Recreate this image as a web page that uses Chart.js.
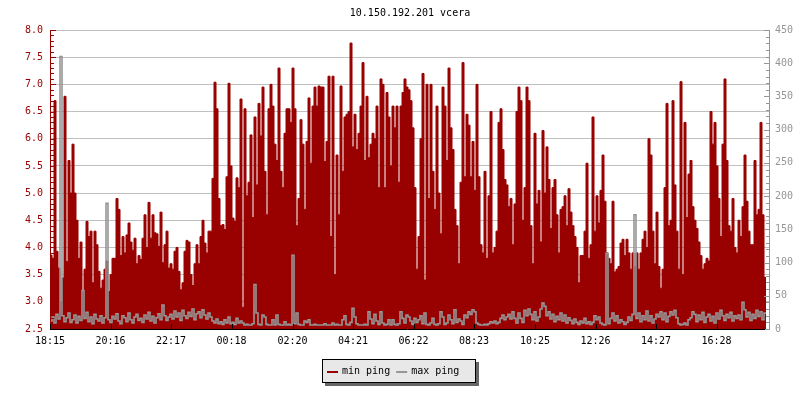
<!DOCTYPE html>
<html>
<head>
<meta charset="utf-8">
<title>10.150.192.201 vcera</title>
<script src="https://cdn.jsdelivr.net/npm/chart.js@4/dist/chart.umd.min.js"></script>
<style>
    html, body { margin: 0; padding: 0; background: #fff; }
</style>
</head>
<body>
<canvas id="ping" width="800" height="400"></canvas>
<script>
'use strict';

var chartTitle = "10.150.192.201 vcera";
var seriesNames = ["min ping", "max ping"];
var timeLabels = ["18:15", "20:16", "22:17", "00:18", "02:20", "04:21", "06:22", "08:23", "10:25", "12:26", "14:27", "16:28"];
var stepMinutes = 4; // one sample every 4 minutes
var spanMinutes = 1440;

// min ping, ms (left axis)
var minPing = [
    3.86, 3.80, 6.70, 3.93, 3.62, 3.00, 3.44, 6.78, 3.74, 5.60,
    5.00, 5.90, 5.00, 4.50, 3.80, 4.10, 3.20, 3.60, 4.48, 4.20,
    4.30, 3.35, 4.30, 4.05, 3.56, 3.25, 3.40, 3.60, 3.75, 3.19,
    3.50, 3.80, 3.80, 4.90, 4.70, 3.85, 4.20, 3.90, 4.23, 4.45,
    4.10, 3.95, 4.17, 3.70, 3.85, 3.78, 4.17, 4.60, 4.00, 4.83,
    4.17, 4.60, 4.27, 4.25, 4.02, 4.65, 3.72, 4.05,
    4.30, 3.62, 3.70, 3.60, 3.93, 4.00, 3.56, 3.22, 3.35, 3.93,
    4.13, 4.10, 3.50, 3.30, 3.70, 4.05, 3.70, 4.20, 4.50, 4.08,
    3.90, 4.30, 4.30, 5.27, 7.04, 6.55, 4.90, 4.40, 4.42, 4.33,
    5.30, 7.02, 5.50, 4.54, 4.48, 5.28, 5.10, 6.73, 2.90, 6.55,
    4.95, 5.20, 6.07, 4.55, 6.40, 5.15, 6.65, 6.05, 6.95, 5.40,
    4.60, 6.55, 7.00, 6.60, 5.90, 5.60, 7.30, 5.40, 5.10, 6.10,
    6.55,
    6.55, 6.30, 7.30, 6.55, 4.40, 4.90, 6.35, 5.90, 4.70, 5.95,
    6.75, 5.55, 6.60, 6.95, 6.60, 6.97, 6.95, 6.95, 5.58, 5.95,
    7.15, 4.20, 7.15, 3.50, 5.70, 4.60, 6.97, 5.40, 6.40, 6.45,
    6.50, 7.76, 5.85, 6.45, 5.80, 6.10, 6.60, 7.40, 5.60, 6.78,
    5.65, 5.90, 6.10, 6.00, 6.60, 5.10, 7.10, 7.00, 5.10, 6.85,
    6.40, 5.50, 6.60, 6.20, 6.60, 5.20, 6.60, 6.85, 7.10, 6.95,
    6.90, 6.70, 6.20, 5.10, 3.60, 4.20, 6.00, 7.20, 3.40, 7.00,
    4.90, 7.00, 5.40, 4.70, 6.60, 5.00, 4.25, 6.95, 6.60, 5.60,
    7.30, 6.20, 5.80, 4.70, 4.40, 3.70, 5.20, 7.40, 5.30, 6.45,
    6.25, 5.30, 5.95, 5.05, 7.00, 5.30, 4.05, 3.90, 5.40, 3.80,
    4.95, 6.50, 3.90, 4.00, 4.30, 6.30, 6.55, 5.80, 5.25, 5.15,
    4.75, 4.90, 4.05, 4.80, 6.50, 6.95, 6.70, 4.50, 5.10, 6.95,
    6.70,
    4.40, 3.70, 6.10, 4.80, 5.05, 4.10, 6.15, 5.00, 5.85, 5.25,
    4.35, 5.10, 5.25, 4.60, 3.90, 4.70, 4.75, 4.95, 4.40, 5.08,
    4.65, 4.40, 4.20, 4.00, 3.35, 3.85, 3.85, 4.30, 5.55, 3.80,
    4.05, 6.40, 4.30, 4.95, 4.45, 5.05, 5.70, 4.85, 3.90, 3.80,
    3.70, 4.85, 3.55, 3.60, 3.65, 4.08, 4.15, 3.85, 4.15, 3.90,
    3.60, 3.90, 3.65, 3.90, 3.60, 3.90, 4.15, 4.30, 4.00,
    6.00, 5.70, 4.30, 3.70, 4.65, 3.65, 3.25, 3.60, 5.10, 6.65,
    4.40, 4.50, 6.70, 5.15, 4.30, 3.60, 7.05, 3.50, 6.30, 4.55,
    5.35, 5.60, 4.75, 4.50, 4.35, 4.10, 3.85, 3.60, 3.70, 3.80,
    3.75, 6.50, 5.90, 6.30, 5.50, 4.90, 4.20, 5.90, 7.10, 5.60,
    4.40, 4.30, 4.90, 4.00, 3.90, 4.50, 4.20, 4.75, 5.70, 4.85,
    4.30, 4.05, 4.05, 5.60, 4.60, 4.70, 6.30, 4.60, 3.45
];

// max ping, ms (right axis)
var maxPing = [
    12, 18, 9, 22, 15, 410, 20, 11, 17, 24, 10, 14, 21, 9, 19, 13, 58, 16, 25, 11,
    18, 8, 22, 15, 12, 20, 9, 17, 189, 14,
    10, 19, 15, 23, 12, 8, 20, 17, 11, 24, 14, 9, 18, 22, 13, 16, 10, 21, 15, 25,
    12, 19, 9, 17, 23, 14, 36, 20, 13, 18,
    22, 15, 27, 18, 24, 13, 28, 20, 16, 25, 19, 30, 14, 23, 26, 17, 29, 21, 15, 24, 18,
    12, 9, 15, 8, 11, 7, 14, 9, 18, 8, 10, 7, 16, 9, 12,
    9, 6, 7, 6, 6, 8, 67, 24, 7, 6, 21, 18, 7, 6, 6, 14, 6, 21, 7, 6, 6, 11, 6, 7, 6,
    111,
    8, 24, 7, 6, 6, 12, 10, 14, 6, 6, 7, 6, 6, 6, 6, 8, 6, 6, 6, 9,
    6, 7, 6, 6, 14, 20, 7, 6, 10, 31, 18, 8, 6, 6, 6, 7, 6, 26, 15, 8,
    22, 12, 7, 26, 9, 6, 7, 14, 6, 14, 7, 6, 8, 26, 16, 9, 21,
    18, 12, 7, 16, 10, 14, 20, 8, 24, 7, 6, 9, 16, 7, 6, 8, 26, 18, 7, 9,
    21, 14, 8, 29, 10, 15, 12, 7, 21, 17, 26, 22, 29, 26, 9, 7, 6, 6, 7, 6,
    8, 11, 9, 12, 8, 10, 16, 21, 14, 18, 22, 15, 26, 16, 9, 24, 16, 10, 28, 20,
    30,
    22, 14, 26, 12, 18, 30, 39, 34, 20, 26, 15, 22, 11, 19, 14, 24, 12, 21, 9, 17,
    13, 8, 15, 10, 7, 12, 9, 16, 8, 11, 7, 10, 20, 14, 18, 9, 7, 6, 114, 8,
    16, 24, 12, 20, 9, 14, 11, 7, 10, 18, 13, 22, 172, 16, 24, 11, 20, 14, 27,
    12, 20, 9, 15, 22, 18, 26, 14, 24, 11, 19, 26, 21, 28, 17, 8, 6, 7, 9, 6,
    14, 17, 26, 22, 11, 21, 14, 25, 10, 18, 22, 12, 19, 9, 24, 15, 28, 20, 13, 22,
    17, 25, 12, 20, 16, 21, 14, 40, 29, 18, 25, 13, 22, 16, 28, 19, 26, 14, 24
];

var leftMin = 2.5, leftMax = 8.0, leftStep = 0.5, leftMinor = 0.1;
var rightMin = 0, rightMax = 450, rightStep = 50, rightMinor = 10;

var red = "#990000";
var gray = "#969696";
var monoFont = "'DejaVu Sans Mono', 'Liberation Mono', monospace";

function toMinutes(s) {
    var p = s.split(":");
    return parseInt(p[0], 10) * 60 + parseInt(p[1], 10);
}
var startMinutes = toMinutes(timeLabels[0]);
var tickMinutes = timeLabels.map(function(t) {
    var m = toMinutes(t) - startMinutes;
    if (m < 0) m += 1440;
    return m;
});

// stepped series: each sample holds until the next one
function toPoints(arr) {
    var pts = arr.map(function(v, i) { return { x: i * stepMinutes, y: v }; });
    pts.push({ x: arr.length * stepMinutes, y: arr[arr.length - 1] });
    return pts;
}

var decorPlugin = {
    id: "decor",
    afterDatasetsDraw: function(chart) {
        var ctx = chart.ctx;
        var a = chart.chartArea;
        var ys = chart.scales.y, y1 = chart.scales.y1, xs = chart.scales.x;
        var v, py, k, len;
        ctx.save();
        ctx.lineWidth = 1;

        // left axis with minor ticks
        ctx.strokeStyle = red;
        ctx.beginPath();
        ctx.moveTo(a.left + 0.5, a.top);
        ctx.lineTo(a.left + 0.5, a.bottom + 1);
        var nLeft = Math.round((leftMax - leftMin) / leftMinor);
        for (k = 0; k <= nLeft; k++) {
            v = leftMin + k * leftMinor;
            py = Math.round(ys.getPixelForValue(v)) + 0.5;
            len = (k % Math.round(leftStep / leftMinor) === 0) ? 5 : 3;
            ctx.moveTo(a.left, py);
            ctx.lineTo(a.left + len + 1, py);
        }
        ctx.stroke();

        // right axis with minor ticks
        ctx.strokeStyle = gray;
        ctx.beginPath();
        ctx.moveTo(a.right - 0.5, a.top);
        ctx.lineTo(a.right - 0.5, a.bottom + 1);
        var nRight = Math.round((rightMax - rightMin) / rightMinor);
        for (k = 0; k <= nRight; k++) {
            v = rightMin + k * rightMinor;
            py = Math.round(y1.getPixelForValue(v)) + 0.5;
            len = (k % Math.round(rightStep / rightMinor) === 0) ? 5 : 3;
            ctx.moveTo(a.right, py);
            ctx.lineTo(a.right - len - 1, py);
        }
        ctx.stroke();

        // bottom axis, ticks pointing up
        ctx.strokeStyle = "#000";
        ctx.beginPath();
        ctx.moveTo(a.left, a.bottom + 0.5);
        ctx.lineTo(a.right - 5, a.bottom + 0.5);
        tickMinutes.forEach(function(m) {
            var px = Math.round(xs.getPixelForValue(m)) + 0.5;
            ctx.moveTo(px, a.bottom);
            ctx.lineTo(px, a.bottom - 5);
        });
        ctx.stroke();
        ctx.restore();
    },
    afterDraw: function(chart) {
        var ctx = chart.ctx;
        var a = chart.chartArea;
        ctx.save();
        ctx.font = "10px " + monoFont;
        ctx.fillStyle = "#000";
        ctx.textAlign = "center";
        ctx.textBaseline = "middle";
        ctx.fillText(chartTitle, (a.left + a.right) / 2, 13);

        // legend box with drop shadow
        var bx = 322, by = 359, bw = 154, bh = 24;
        ctx.fillStyle = "#666666";
        ctx.fillRect(bx + 3, by + 3, bw, bh);
        ctx.fillStyle = "#e8e8e8";
        ctx.fillRect(bx, by, bw, bh);
        ctx.strokeStyle = "#000";
        ctx.lineWidth = 1;
        ctx.strokeRect(bx + 0.5, by + 0.5, bw - 1, bh - 1);

        var colors = [red, gray];
        var ix = bx + 5;
        ctx.textAlign = "left";
        seriesNames.forEach(function(name, i) {
            ctx.fillStyle = colors[i];
            ctx.fillRect(ix, by + 12, 11, 2);
            ctx.fillStyle = "#000";
            ctx.fillText(name, ix + 15, by + 12.5);
            ix += 15 + ctx.measureText(name).width + 6;
        });
        ctx.restore();
    }
};

var ctx = document.getElementById("ping").getContext("2d");
var chart = new Chart(ctx, {
    type: "line",
    data: {
        datasets: [{
            label: seriesNames[0],
            data: toPoints(minPing),
            yAxisID: "y",
            borderColor: red,
            backgroundColor: red,
            borderWidth: 1,
            fill: "start",
            stepped: true,
            pointRadius: 0,
            order: 2
        }, {
            label: seriesNames[1],
            data: toPoints(maxPing),
            yAxisID: "y1",
            borderColor: gray,
            borderWidth: 1.6,
            fill: false,
            stepped: true,
            pointRadius: 0,
            order: 1
        }]
    },
    options: {
        responsive: false,
        animation: false,
        events: [],
        layout: {
            autoPadding: false,
            padding: { top: 30, bottom: 51, left: 0, right: 0 }
        },
        plugins: {
            legend: { display: false },
            title: { display: false },
            tooltip: { enabled: false }
        },
        scales: {
            x: {
                type: "linear",
                min: 0,
                max: spanMinutes,
                grid: { display: false, drawTicks: false },
                border: { display: false },
                afterFit: function(scale) { scale.height = 20; },
                afterBuildTicks: function(scale) {
                    scale.ticks = tickMinutes.map(function(m) { return { value: m }; });
                },
                ticks: {
                    autoSkip: false,
                    maxRotation: 0,
                    padding: 6,
                    color: "#000",
                    font: { family: monoFont, size: 10 },
                    callback: function(value, index) { return timeLabels[index]; }
                }
            },
            y: {
                position: "left",
                min: leftMin,
                max: leftMax,
                grid: { color: "#c0c0c0", drawTicks: false },
                border: { display: false },
                afterFit: function(scale) { scale.width = 50; },
                ticks: {
                    stepSize: leftStep,
                    padding: 7,
                    color: red,
                    font: { family: monoFont, size: 10 },
                    callback: function(value) { return value.toFixed(1); }
                }
            },
            y1: {
                position: "right",
                min: rightMin,
                max: rightMax,
                grid: { display: false, drawTicks: false },
                border: { display: false },
                afterFit: function(scale) { scale.width = 30; },
                ticks: {
                    stepSize: rightStep,
                    padding: 5,
                    color: gray,
                    font: { family: monoFont, size: 10 }
                }
            }
        }
    },
    plugins: [decorPlugin]
});
</script>
</body>
</html>
